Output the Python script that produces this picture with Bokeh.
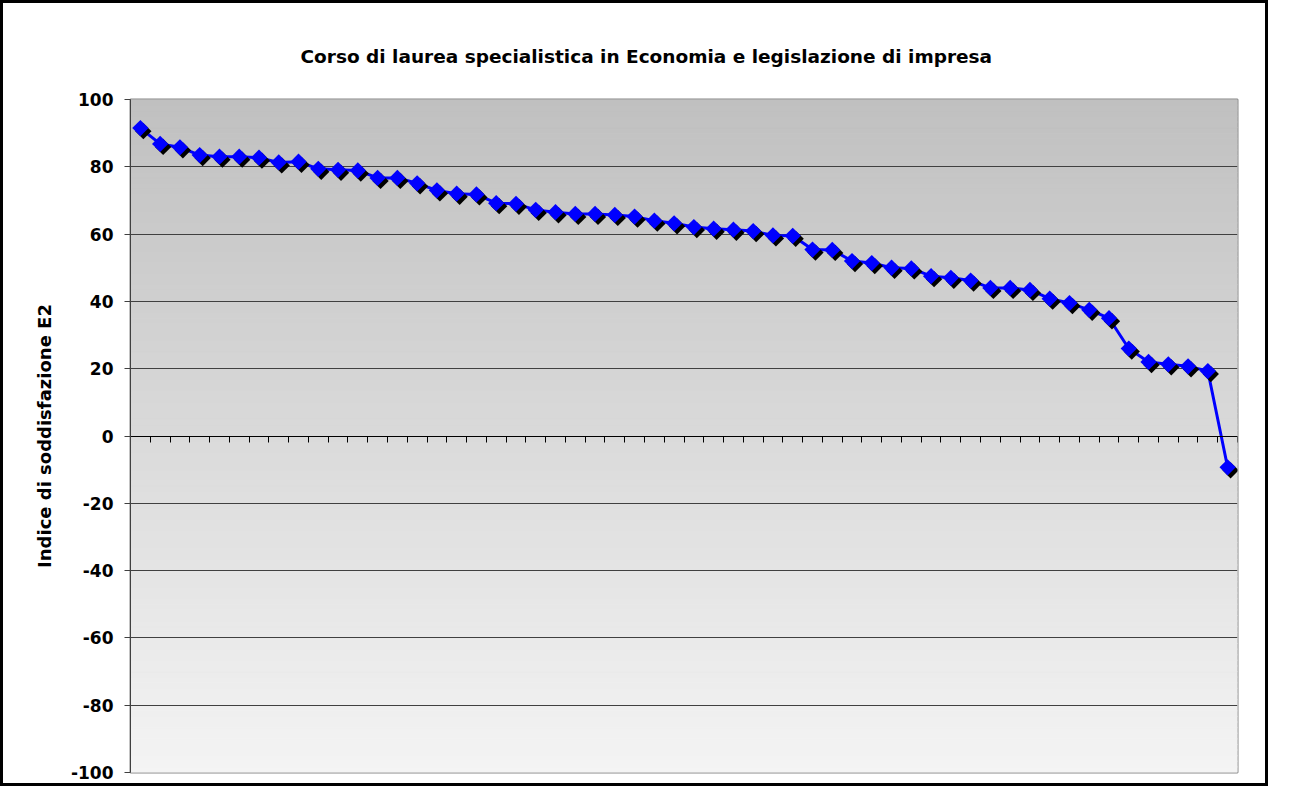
from bokeh.plotting import figure
from bokeh.models import Range1d, FixedTicker, CustomJSTickFormatter
from bokeh.transform import dodge
from bokeh.embed import file_html
from bokeh.resources import INLINE

# ---- data ----
title_text = "Corso di laurea specialistica in Economia e legislazione di impresa"
y_label = "Indice di soddisfazione E2"
corsi = list(range(1, 57))
indice = [91.5, 86.8, 85.8, 83.5, 83.0, 83.0, 82.7, 81.3, 81.5, 79.4,
          79.1, 78.9, 76.7, 76.7, 75.1, 73.0, 72.0, 71.8, 69.2, 69.0,
          67.2, 66.5, 66.0, 66.0, 65.7, 65.2, 64.0, 63.2, 62.1, 61.6,
          61.3, 60.9, 59.6, 59.5, 55.4, 55.3, 52.0, 51.4, 50.0, 49.8,
          47.5, 47.0, 46.2, 44.0, 44.0, 43.4, 40.8, 39.5, 37.5, 35.0,
          26.0, 22.0, 21.3, 20.7, 19.3, -9.3]
y_ticks = [-100, -80, -60, -40, -20, 0, 20, 40, 60, 80, 100]

n = len(corsi)
FONT = "DejaVu Sans"

p = figure(width=1268, height=786, output_backend="svg", toolbar_location=None,
           x_range=Range1d(0.5, n + 0.5), y_range=Range1d(-100, 100),
           min_border_left=127, min_border_right=34, min_border_top=96,
           min_border_bottom=17)
p.styles = {"border": "3px solid black"}
p.background_fill_color = "#ffffff"
p.border_fill_color = "#ffffff"

# gradient background (decoration)
nb = 120
edges = [-100 + 200 * i / nb for i in range(nb + 1)]
cols = []
for i in range(nb):
    t = (i + 0.5) / nb  # 0 bottom -> 1 top
    g = int(round(244 - (244 - 192) * t))
    cols.append("#%02x%02x%02x" % (g, g, g))
bg = p.quad(left=0.5, right=n + 0.5, bottom=edges[:-1], top=edges[1:],
            fill_color=cols, line_color=cols, line_width=1)
bg.level = "image"

# title
p.title.text = title_text
p.title.align = "left"
p.title.vertical_align = "top"
p.title.text_color = "black"
p.title.text_font = FONT
p.title.text_font_style = "bold"
p.title.text_font_size = "18.5px"
p.title.offset = 170
p.title.standoff = 61

# y axis
p.yaxis.ticker = FixedTicker(ticks=y_ticks)
p.yaxis.formatter = CustomJSTickFormatter(code="return tick.toString()")
p.yaxis.axis_label = y_label
p.yaxis.axis_label_text_color = "black"
p.yaxis.axis_label_text_font = FONT
p.yaxis.axis_label_text_font_style = "bold"
p.yaxis.axis_label_text_font_size = "18px"
p.yaxis.axis_label_standoff = 13
p.yaxis.major_label_text_font = FONT
p.yaxis.major_label_text_font_style = "bold"
p.yaxis.major_label_text_font_size = "17px"
p.yaxis.major_label_text_color = "black"
p.yaxis.major_label_standoff = 11
p.yaxis.major_tick_in = 0
p.yaxis.major_tick_out = 6
p.yaxis.minor_tick_line_color = None
p.yaxis.axis_line_color = "#404040"
p.yaxis.major_tick_line_color = "#404040"

# x axis at zero, boundary ticks, no labels
p.xaxis.fixed_location = 0
p.xaxis.ticker = FixedTicker(ticks=[c - 0.5 for c in corsi] + [n + 0.5])
p.xaxis.formatter = CustomJSTickFormatter(code="return ''")
p.xaxis.major_tick_in = 0
p.xaxis.major_tick_out = 6
p.xaxis.minor_tick_line_color = None
p.xaxis.axis_line_color = "black"
p.xaxis.major_tick_line_color = "black"
p.xaxis.axis_line_width = 1

# grid
p.xgrid.grid_line_color = None
p.ygrid.ticker = FixedTicker(ticks=y_ticks)
p.ygrid.grid_line_color = "#404040"
p.ygrid.grid_line_width = 1

p.outline_line_color = "#888888"
p.outline_line_width = 2

# series
src = dict(x=corsi, y=indice)
p.line(x="x", y="y", source=src, line_color="#0000ff", line_width=3)
p.scatter(x=dodge("x", 0.15), y=dodge("y", -0.9), source=src, marker="square",
          angle=0.785398, size=11.5, fill_color="black", line_color=None)
p.scatter(x="x", y="y", source=src, marker="square", angle=0.785398, size=11.5,
          fill_color="#0000ff", line_color=None)

open("out.html", "w").write(file_html(p, INLINE))
